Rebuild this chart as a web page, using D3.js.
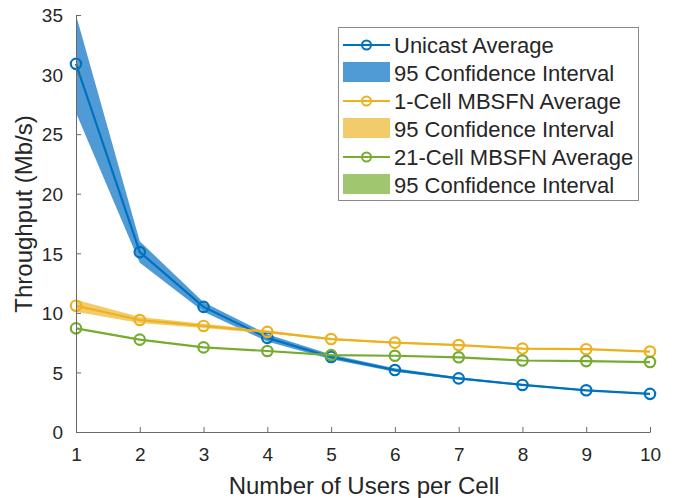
<!DOCTYPE html>
<html>
<head>
<meta charset="utf-8">
<script src="https://cdn.jsdelivr.net/npm/d3@7"></script>
<style>
  html, body { margin: 0; padding: 0; background: #fff; }
  svg text { font-family: "Liberation Sans", Arial, Helvetica, sans-serif; fill: #262626; }
</style>
</head>
<body>
<svg id="chart" width="675" height="498"></svg>
<script>
// Users per cell
const users = [1, 2, 3, 4, 5, 6, 7, 8, 9, 10];

// Unicast throughput (Mb/s): mean and 95% confidence bounds
const unicastAvg   = [30.9, 15.1, 10.5, 7.9, 6.3, 5.2, 4.5, 3.95, 3.5, 3.2];
const unicastLow   = [26.8, 14.2, 10.1, 7.6, 6.1, 5.05, 4.4, 3.88, 3.44, 3.14];
const unicastHigh  = [35.0, 16.0, 10.9, 8.2, 6.5, 5.35, 4.6, 4.02, 3.56, 3.26];

// 1-cell MBSFN throughput
const mbsfn1Avg    = [10.6, 9.4, 8.9, 8.4, 7.8, 7.5, 7.3, 7.0, 6.95, 6.75];
const mbsfn1Low    = [10.1, 9.15, 8.72, 8.28, 7.72, 7.43, 7.24, 6.95, 6.9, 6.7];
const mbsfn1High   = [11.1, 9.65, 9.08, 8.52, 7.88, 7.57, 7.36, 7.05, 7.0, 6.8];

// 21-cell MBSFN throughput
const mbsfn21Avg   = [8.7, 7.75, 7.1, 6.8, 6.45, 6.4, 6.27, 6.0, 5.95, 5.87];
const mbsfn21Low   = [8.65, 7.7, 7.06, 6.76, 6.41, 6.36, 6.23, 5.96, 5.91, 5.83];
const mbsfn21High  = [8.75, 7.8, 7.14, 6.84, 6.49, 6.44, 6.31, 6.04, 5.99, 5.91];

const yTicks = [0, 5, 10, 15, 20, 25, 30, 35];
const xLabel = "Number of Users per Cell";
const yLabel = "Throughput (Mb/s)";

const series = [
  { name: "Unicast Average", avg: unicastAvg, low: unicastLow, high: unicastHigh,
    line: "#0072BD", fill: "#3D8FD0" },
  { name: "1-Cell MBSFN Average", avg: mbsfn1Avg, low: mbsfn1Low, high: mbsfn1High,
    line: "#EDB120", fill: "#F1C55A" },
  { name: "21-Cell MBSFN Average", avg: mbsfn21Avg, low: mbsfn21Low, high: mbsfn21High,
    line: "#77AC30", fill: "#96C060" }
];
const ciLabel = "95 Confidence Interval";

const svg = d3.select("#chart");
const plotLeft = 76, plotRight = 650, plotTop = 15, plotBottom = 432;

const x = d3.scaleLinear().domain([1, 10]).range([plotLeft, plotRight]);
const y = d3.scaleLinear().domain([0, 35]).range([plotBottom, plotTop]);

const axisColor = "#6a6a6a";

// confidence bands first, then the mean lines on top
const area = d3.area()
  .x((d, i) => x(users[i]))
  .y0(d => y(d[0]))
  .y1(d => y(d[1]));
const line = d3.line()
  .x((d, i) => x(users[i]))
  .y(d => y(d));

const plot = svg.append("g");
series.forEach(s => {
  const band = s.low.map((v, i) => [v, s.high[i]]);
  plot.append("path")
    .attr("d", area(band))
    .attr("fill", s.fill)
    .attr("fill-opacity", 0.9)
    .attr("stroke", "none");
});
series.forEach(s => {
  plot.append("path")
    .attr("d", line(s.avg))
    .attr("fill", "none")
    .attr("stroke", s.line)
    .attr("stroke-width", 2.2);
  plot.selectAll(null)
    .data(s.avg)
    .enter().append("circle")
    .attr("cx", (d, i) => x(users[i]))
    .attr("cy", d => y(d))
    .attr("r", 5.2)
    .attr("fill", "none")
    .attr("stroke", s.line)
    .attr("stroke-width", 2.2);
});

// axes with inward ticks
const xAxis = d3.axisBottom(x).tickValues(users).tickSizeInner(-5).tickSizeOuter(0).tickPadding(16);
const yAxis = d3.axisLeft(y).tickValues(yTicks).tickSizeInner(-5).tickSizeOuter(0).tickPadding(13);

const gx = svg.append("g").attr("transform", `translate(0,${plotBottom})`).call(xAxis);
const gy = svg.append("g").attr("transform", `translate(${plotLeft},0)`).call(yAxis);
[gx, gy].forEach(g => {
  g.select(".domain").attr("stroke", axisColor).attr("stroke-width", 1);
  g.selectAll(".tick line").attr("stroke", axisColor);
  g.selectAll(".tick text").attr("font-size", 19).attr("fill", "#262626")
    .style("font-family", '"Liberation Sans", Arial, sans-serif');
});
gy.selectAll(".tick text").attr("dy", "0.36em");

svg.append("text")
  .attr("x", 364)
  .attr("y", 494)
  .attr("text-anchor", "middle")
  .attr("font-size", 24)
  .text(xLabel);

svg.append("text")
  .attr("transform", "translate(32,214) rotate(-90)")
  .attr("text-anchor", "middle")
  .attr("font-size", 24)
  .text(yLabel);

// legend
const lg = svg.append("g");
lg.append("rect")
  .attr("x", 338.5).attr("y", 27.5)
  .attr("width", 300).attr("height", 173)
  .attr("fill", "#fff")
  .attr("stroke", "#8a8a8a")
  .attr("stroke-width", 1);

const rowY = [45, 73, 101, 129, 157, 185];
series.forEach((s, k) => {
  const yl = rowY[2 * k], yr = rowY[2 * k + 1];
  lg.append("line")
    .attr("x1", 343).attr("x2", 390).attr("y1", yl).attr("y2", yl)
    .attr("stroke", s.line).attr("stroke-width", 2);
  lg.append("circle")
    .attr("cx", 366.5).attr("cy", yl).attr("r", 4.5)
    .attr("fill", "none").attr("stroke", s.line).attr("stroke-width", 2);
  lg.append("text")
    .attr("x", 394).attr("y", yl).attr("dy", "0.36em")
    .attr("font-size", 22).text(s.name);
  lg.append("rect")
    .attr("x", 343).attr("y", yr - 11).attr("width", 47).attr("height", 20)
    .attr("fill", s.fill).attr("fill-opacity", 0.9);
  lg.append("text")
    .attr("x", 394).attr("y", yr).attr("dy", "0.36em")
    .attr("font-size", 22).text(ciLabel);
});
</script>
</body>
</html>
